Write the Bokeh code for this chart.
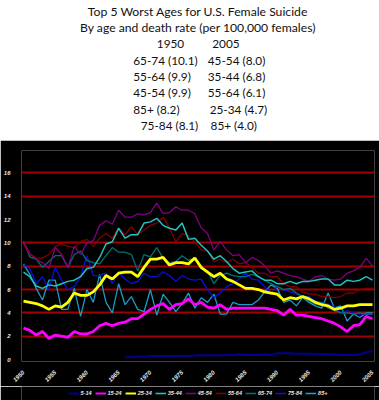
import math
from bokeh.plotting import figure
from bokeh.models import Range1d, FixedTicker, Legend, LegendItem
from bokeh.layouts import column
from bokeh.core.properties import value
from bokeh.embed import file_html
from bokeh.resources import INLINE

# ---------------- data ----------------
title_lines = ["Top 5 Worst Ages for U.S. Female Suicide",
               "By age and death rate (per 100,000 females)"]
col_years = ["1950", "2005"]
top5_1950 = ["65-74 (10.1)", "55-64 (9.9)", "45-54 (9.9)", "85+ (8.2)", "75-84 (8.1)"]
top5_2005 = ["45-54 (8.0)", "35-44 (6.8)", "55-64 (6.1)", "25-34 (4.7)", "85+ (4.0)"]

years = list(range(1950, 2006))
years_5_14 = list(range(1966, 2006))

r5_14 = [0.2, 0.2, 0.25, 0.25, 0.3, 0.3, 0.3, 0.3, 0.3, 0.3,
         0.3, 0.35, 0.4, 0.35, 0.4, 0.35, 0.4, 0.4, 0.45, 0.4,
         0.4, 0.4, 0.45, 0.4, 0.55, 0.55, 0.55, 0.5, 0.5, 0.5,
         0.45, 0.45, 0.45, 0.45, 0.4, 0.4, 0.4, 0.45, 0.6, 0.75]
r15_24 = [2.7, 2.5, 2.1, 2.4, 1.8, 2.1, 2.0, 1.9, 2.4, 2.2,
          2.2, 2.4, 2.9, 3.1, 2.9, 3.1, 3.2, 3.5, 3.5, 3.9,
          4.3, 4.6, 4.8, 4.3, 4.7, 4.8, 5.2, 4.7, 4.9, 4.5,
          4.4, 4.7, 4.3, 4.4, 4.4, 4.4, 4.4, 4.4, 4.4, 4.3,
          4.2, 3.8, 4.3, 3.8, 3.8, 3.7, 3.6, 3.5, 3.3, 3.1,
          2.8, 2.4, 2.9, 3.0, 3.7, 3.5]
r25_34 = [5.0, 4.9, 4.8, 4.6, 4.3, 4.6, 4.5, 4.9, 5.7, 5.5,
          5.5, 5.8, 6.4, 7.2, 6.9, 7.4, 7.5, 7.5, 7.1, 7.9,
          8.6, 8.6, 8.75, 8.1, 8.3, 8.3, 8.2, 8.7, 7.9, 7.5,
          7.1, 7.4, 6.9, 6.7, 6.4, 6.1, 6.1, 6.0, 5.8, 5.7,
          5.6, 5.1, 5.3, 5.2, 5.4, 5.2, 4.9, 4.7, 4.6, 4.3,
          4.4, 4.6, 4.6, 4.7, 4.7, 4.7]
r35_44 = [7.5, 7.1, 6.3, 6.1, 6.4, 6.3, 6.5, 6.7, 6.8, 7.1,
          7.8, 7.9, 8.75, 9.9, 10.1, 11.25, 10.4, 10.7, 10.7, 11.7,
          11.8, 12.1, 11.5, 11.25, 11.1, 11.7, 10.3, 10.4, 9.8, 9.3,
          8.6, 8.9, 8.4, 7.8, 7.4, 7.5, 7.6, 7.1, 6.8, 6.8,
          6.5, 6.5, 6.7, 6.5, 6.7, 6.7, 6.8, 6.9, 6.9, 6.4,
          6.4, 6.8, 6.7, 6.8, 7.1, 6.8]
r45_54 = [10.1, 9.1, 8.6, 8.3, 7.8, 9.6, 9.0, 7.9, 9.7, 9.0,
          10.0, 10.2, 11.5, 11.9, 11.6, 12.8, 12.2, 12.2, 12.5, 12.4,
          12.6, 13.4, 12.5, 12.6, 13.1, 12.8, 12.8, 12.5, 11.3, 10.8,
          9.4, 10.1, 9.4, 8.9, 9.0, 8.3, 8.75, 8.5, 8.05, 7.4,
          7.6, 7.4, 7.2, 7.1, 6.9, 6.7, 7.1, 7.2, 6.9, 6.8,
          6.9, 7.4, 7.6, 7.9, 8.7, 8.0]
r55_64 = [9.9, 9.0, 8.7, 8.7, 9.0, 9.7, 9.9, 9.7, 9.6, 10.1,
          10.3, 9.7, 10.4, 10.8, 10.4, 11.3, 10.7, 11.4, 10.7, 11.1,
          11.5, 11.7, 12.2, 11.3, 10.1, 10.8, 10.6, 10.1, 9.4, 9.3,
          8.4, 8.6, 8.3, 8.6, 8.2, 8.3, 7.9, 7.4, 7.4, 7.1,
          7.1, 6.5, 6.25, 6.25, 5.8, 5.6, 5.6, 5.4, 5.4, 5.3,
          5.4, 5.7, 5.7, 6.0, 6.1, 6.1]
r65_74 = [10.1, 8.8, 8.6, 7.9, 8.4, 8.9, 8.9, 7.9, 9.0, 9.3,
          8.5, 8.3, 8.2, 8.9, 9.6, 9.2, 9.2, 9.0, 7.6, 9.0,
          8.8, 9.6, 8.7, 8.3, 8.4, 8.9, 8.5, 8.7, 7.8, 7.6,
          6.5, 7.2, 7.4, 7.2, 7.1, 7.1, 7.3, 7.1, 6.8, 6.5,
          6.25, 6.0, 6.1, 5.7, 5.4, 5.0, 4.75, 4.9, 4.4, 4.2,
          4.0, 4.0, 3.9, 4.0, 3.9, 3.9]
r75_84 = [8.1, 7.8, 6.5, 7.1, 6.0, 7.9, 6.8, 6.0, 6.25, 7.1,
          8.9, 7.2, 7.2, 7.4, 6.5, 7.5, 6.9, 6.5, 6.7, 7.4,
          7.1, 7.1, 7.5, 7.2, 6.7, 7.2, 6.9, 6.8, 6.9, 6.0,
          5.3, 5.7, 6.25, 6.5, 6.9, 7.4, 6.9, 6.8, 6.25, 5.7,
          6.25, 6.0, 5.8, 5.6, 5.4, 5.4, 5.0, 4.9, 4.75, 4.5,
          4.0, 4.2, 4.0, 3.9, 3.9, 3.9]
r85_plus = [8.2, 7.3, 6.1, 5.1, 6.8, 6.8, 4.3, 4.3, 6.1, 3.7,
            6.0, 4.9, 7.3, 4.9, 4.0, 6.5, 4.7, 5.4, 4.3, 4.1,
            6.0, 3.8, 5.6, 4.9, 4.1, 4.8, 5.7, 4.4, 5.3, 4.9,
            5.6, 3.9, 3.9, 4.9, 4.7, 4.7, 4.7, 5.1, 5.8, 6.4,
            6.1, 4.9, 5.1, 4.6, 5.3, 4.9, 4.6, 4.4, 5.7, 4.4,
            4.6, 3.3, 3.9, 3.6, 4.0, 4.0]

series_labels = ["5-14", "15-24", "25-34", "35-44", "45-54", "55-64", "65-74", "75-84", "85+"]
series_colors = ["#000090", "#ff00ff", "#ffff00", "#22c2c2", "#800080",
                 "#800000", "#007070", "#0a10d8", "#1a9cc4"]
x_ticks = [1950, 1955, 1960, 1965, 1970, 1975, 1980, 1985, 1990, 1995, 2000, 2005]
y_ticks = [0, 2, 4, 6, 8, 10, 12, 14, 16]
grid_values = [2, 4, 6, 8, 10, 14, 16]

W = 379
X_RANGE = (1949.6875, 2005.3125)

# ---------------- title block ----------------
top = figure(width=W, height=140, x_range=Range1d(0, W), y_range=Range1d(140, 0),
             output_backend="svg", toolbar_location=None,
             x_axis_location=None, y_axis_location=None,
             min_border_left=0, min_border_right=0, min_border_top=0, min_border_bottom=0)
top.grid.visible = False
top.outline_line_color = None
top.background_fill_color = "white"
top.border_fill_color = "white"

FONT = value("Lato")
step = 16.25
b0 = 11.2
top.text(x=[189.5, 189.5], y=[b0, b0 + step], text=title_lines, text_font=FONT,
         text_font_size="12.2px", text_align="center", text_baseline="alphabetic",
         text_color="#111111")
top.text(x=[160, 219.5], y=[b0 + 2 * step] * 2, text=col_years, text_font=FONT,
         text_font_size="11.8px", text_align="center", text_baseline="alphabetic",
         text_color="#111111")
left_x = [120, 120, 120, 120, 128]
right_x = [200, 200, 200, 202, 203]
rows_y = [b0 + (3 + i) * step for i in range(5)]
top.text(x=left_x, y=rows_y, text=top5_1950, text_font=FONT, text_font_size="11.8px",
         text_align="left", text_baseline="alphabetic", text_color="#111111")
top.text(x=right_x, y=rows_y, text=top5_2005, text_font=FONT, text_font_size="11.8px",
         text_align="left", text_baseline="alphabetic", text_color="#111111")

# ---------------- chart ----------------
p = figure(width=W, height=246,
           x_range=Range1d(*X_RANGE), y_range=Range1d(-0.1667, 17.9167),
           output_backend="svg", toolbar_location=None,
           min_border_left=18, min_border_right=5, min_border_top=10, min_border_bottom=19)
p.background_fill_color = "black"
p.border_fill_color = "black"
p.outline_line_color = None

TICKFONT = "Liberation Sans"
for ax in (p.xaxis[0], p.yaxis[0]):
    ax.axis_line_color = None
    ax.major_tick_line_color = None
    ax.minor_tick_line_color = None
    ax.major_label_text_color = "#e8e8e8"
    ax.major_label_text_font = TICKFONT
    ax.major_label_text_font_size = "6px"
    ax.major_label_text_font_style = "bold italic"
p.xaxis.ticker = FixedTicker(ticks=x_ticks)
p.xaxis.major_label_orientation = math.pi / 4
p.xaxis.major_label_standoff = 4
p.yaxis.ticker = FixedTicker(ticks=y_ticks)
p.yaxis.major_label_standoff = 5
p.xgrid.visible = False
p.ygrid.ticker = FixedTicker(ticks=grid_values)
p.ygrid.grid_line_color = "#a00000"
p.ygrid.grid_line_width = 2

series = {
    "5-14": (years_5_14, r5_14), "15-24": (years, r15_24), "25-34": (years, r25_34),
    "35-44": (years, r35_44), "45-54": (years, r45_54), "55-64": (years, r55_64),
    "65-74": (years, r65_74), "75-84": (years, r75_84), "85+": (years, r85_plus),
}
widths = {"5-14": 2.0, "15-24": 2.8, "25-34": 2.8, "35-44": 1.5}
draw_order = ["85+", "75-84", "65-74", "55-64", "45-54", "35-44", "25-34", "15-24", "5-14"]
color_of = dict(zip(series_labels, series_colors))
for name in draw_order:
    xs, ys = series[name]
    p.line(xs, ys, line_color=color_of[name], line_width=widths.get(name, 1.3))

# ---------------- legend strip (series drawn out of view; only the legend shows) ----------------
leg = figure(width=W, height=14, x_range=Range1d(*X_RANGE), y_range=Range1d(100, 101),
             output_backend="svg", toolbar_location=None,
             x_axis_location=None, y_axis_location=None,
             min_border_left=10, min_border_right=0, min_border_top=0, min_border_bottom=0)
leg.grid.visible = False
leg.outline_line_color = None
leg.background_fill_color = "black"
leg.border_fill_color = "black"
items = []
for name in series_labels:
    xs, ys = series[name]
    r = leg.line(xs, ys, line_color=color_of[name],
                 line_width=2.0 if name in ("15-24", "25-34", "5-14") else 1.6)
    items.append(LegendItem(label=name, renderers=[r]))
legend = Legend(items=items, orientation="horizontal", location="center",
                background_fill_alpha=0, border_line_alpha=0,
                label_text_color="#e8e8e8", label_text_font=TICKFONT,
                label_text_font_size="5.5px", label_text_font_style="bold italic",
                glyph_width=11, glyph_height=6, label_standoff=2, spacing=3,
                padding=0, margin=0, label_height=6, label_width=0)
leg.add_layout(legend)

layout = column(top, p, leg, spacing=0)
open("out.html", "w").write(file_html(layout, INLINE))
